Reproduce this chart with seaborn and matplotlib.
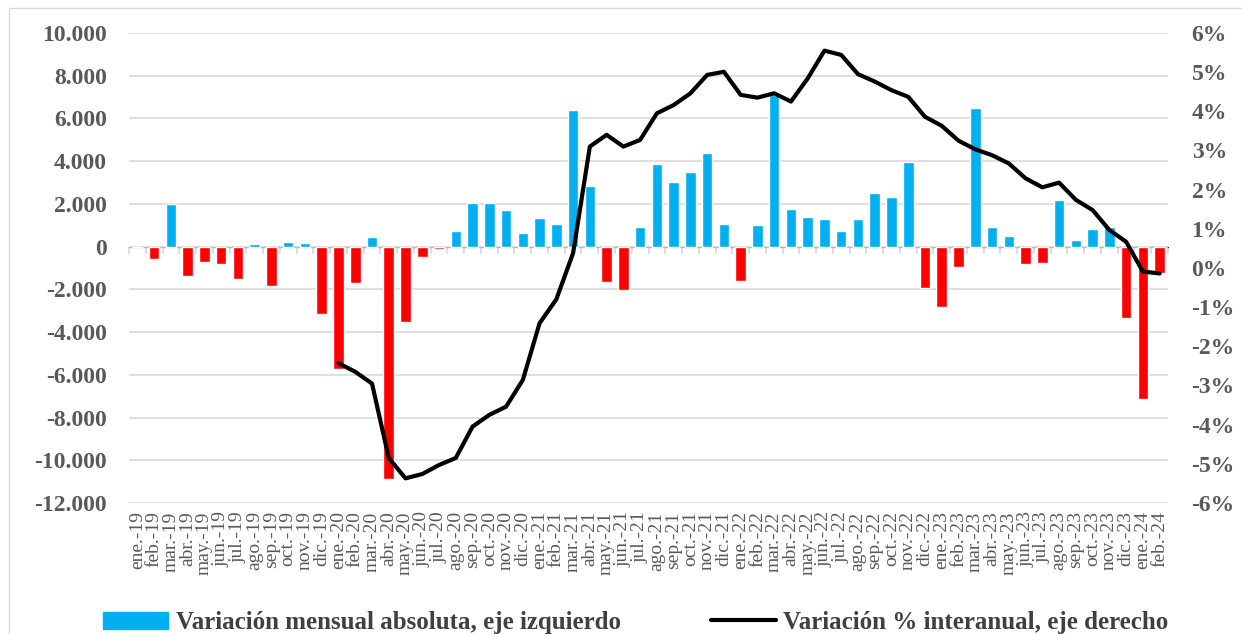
import numpy as np
import pandas as pd
import matplotlib
matplotlib.use("Agg")
import matplotlib.pyplot as plt
import matplotlib.ticker as mticker
from matplotlib.patches import Patch, Rectangle
from matplotlib.lines import Line2D
import seaborn as sns

# ---------------- Data ----------------
months = ["ene.", "feb.", "mar.", "abr.", "may.", "jun.",
          "jul.", "ago.", "sep.", "oct.", "nov.", "dic."]
years = ["19", "20", "21", "22", "23", "24"]
labels = [f"{m}-{y}" for y in years for m in months][:62]  # ene.-19 .. feb.-24

# variación mensual absoluta (eje izquierdo)
monthly = [0, -600, 2000, -1360, -700, -810, -1510, 110, -1830, 220, 160, -3160,
           -5750, -1720, 470, -10900, -3550, -500, -120, 750, 2030, 2030, 1720, 625,
           1360, 1060, 6375, 2830, -1670, -2010, 905, 3875, 3030, 3485, 4390, 1060,
           -1625, 1000, 7100, 1770, 1405, 1310, 710, 1280, 2530, 2330, 3940, -1940,
           -2845, -940, 6500, 905, 500, -800, -750, 2170, 315, 810, 905, -3345,
           -7155, -1250]

# variación % interanual (eje derecho), desde ene.-20
yoy_start = 12
yoy = [-2.43, -2.65, -2.95, -4.85, -5.37, -5.26, -5.03, -4.85, -4.05, -3.75, -3.54, -2.86,
       -1.41, -0.8, 0.38, 3.1, 3.4, 3.1, 3.27, 3.95, 4.16, 4.46, 4.93, 5.01,
       4.42, 4.35, 4.46, 4.25, 4.84, 5.55, 5.44, 4.95, 4.76, 4.54, 4.37, 3.86,
       3.63, 3.25, 3.03, 2.88, 2.67, 2.29, 2.06, 2.18, 1.74, 1.48, 0.97, 0.67,
       -0.09, -0.14]

df = pd.DataFrame({"mes": labels, "valor": monthly})
df["signo"] = np.where(df["valor"] >= 0, "pos", "neg")
line_df = pd.DataFrame({"x": np.arange(yoy_start, yoy_start + len(yoy)), "yoy": yoy})

BLUE = "#00B0F0"
RED = "#FF0000"
GREY = "#595959"

# ---------------- Plot ----------------
sns.set_style("white")
plt.rcParams["font.family"] = ["Liberation Serif", "DejaVu Serif"]

fig = plt.figure(figsize=(12.42, 6.34), dpi=100)
ax = fig.add_axes([129 / 1242, 1 - 503 / 634, (1168 - 129) / 1242, (503 - 33) / 634])

sns.barplot(data=df, x="mes", y="valor", hue="signo", palette={"pos": BLUE, "neg": RED},
            dodge=False, width=0.63, legend=False, saturation=1, ax=ax)

ax.set_ylim(-12000, 10000)
ax.set_xlim(-0.5, len(labels) - 0.5)
ax.yaxis.set_major_locator(mticker.MultipleLocator(2000))
ax.yaxis.set_major_formatter(mticker.FuncFormatter(lambda v, p: f"{v:,.0f}".replace(",", ".")))
ax.grid(axis="y", color="#D9D9D9", linewidth=1.2)
ax.set_axisbelow(True)
for s in ax.spines.values():
    s.set_visible(False)
ax.set_xlabel("")
ax.set_ylabel("")
ax.tick_params(axis="x", length=0, pad=6, labelsize=14, labelcolor=GREY, rotation=90)
ax.tick_params(axis="y", length=0, pad=16, labelsize=17, labelcolor=GREY)
for t in ax.get_yticklabels():
    t.set_fontweight("bold")

# category axis crossing at zero
zero_frac = 12000 / 22000
sec = ax.secondary_xaxis(zero_frac)
sec.set_xticks(np.arange(len(labels) + 1) - 0.5)
sec.set_xticklabels([])
sec.tick_params(axis="x", direction="out", length=5, color="#D9D9D9", width=1.2)
sec.spines["bottom"].set_color("#D9D9D9")
sec.spines["bottom"].set_linewidth(1.2)
sec.xaxis.set_ticks_position("bottom")

ax2 = ax.twinx()
sns.lineplot(data=line_df, x="x", y="yoy", color="black", linewidth=3, ax=ax2)
ax2.set_ylim(-6, 6)
ax2.yaxis.set_major_locator(mticker.MultipleLocator(1))
ax2.yaxis.set_major_formatter(mticker.FuncFormatter(lambda v, p: f"{v:.0f}%"))
for s in ax2.spines.values():
    s.set_visible(False)
ax2.set_xlabel("")
ax2.set_ylabel("")
ax2.tick_params(axis="y", length=0, pad=17, labelsize=17, labelcolor=GREY)
for t in ax2.get_yticklabels():
    t.set_fontweight("bold")

# legend
handles = [Patch(color=BLUE), Line2D([0], [0], color="black", linewidth=3)]
names = ["Variación mensual absoluta, eje izquierdo", "Variación % interanual, eje derecho"]
fig.legend(handles, names, loc="center", bbox_to_anchor=(0.512, 0.018), ncol=2,
           frameon=False, columnspacing=3.6, handlelength=2.6, handletextpad=0.3,
           prop={"family": ["Liberation Serif"], "weight": "bold", "size": 18},
           labelcolor="#404040")

# outer chart border
fig.patches.append(Rectangle((9 / 1242, -0.05), 1.2, 1 - 8 / 634 + 0.05,
                             transform=fig.transFigure, fill=False,
                             edgecolor="#D9D9D9", linewidth=1))

fig.savefig("out.png", dpi=100)
